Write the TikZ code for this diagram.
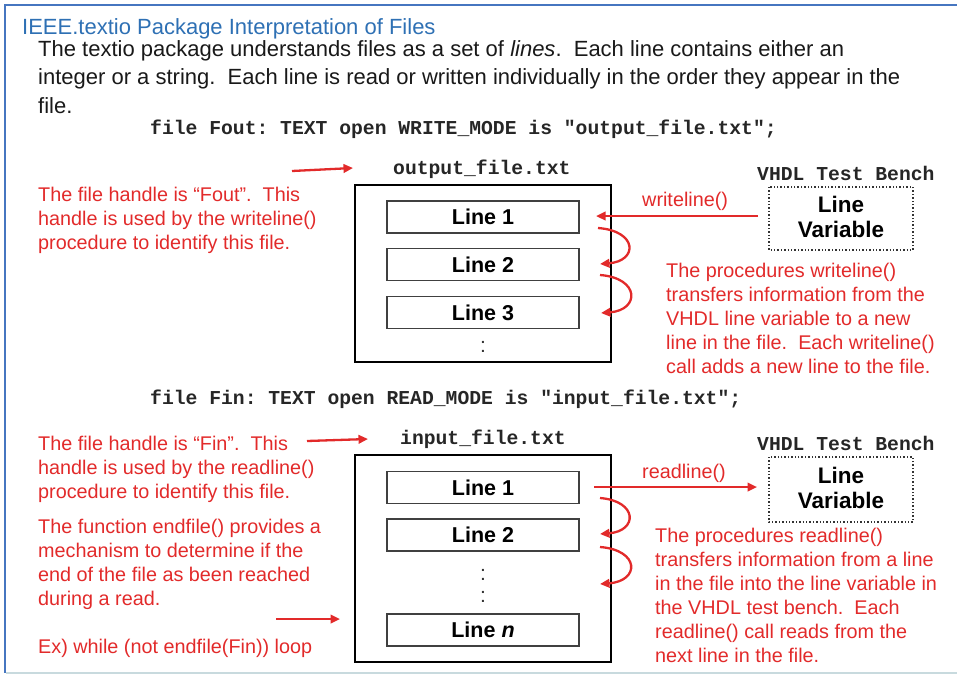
\documentclass[tikz,border=0pt]{standalone}
\usepackage{fontspec}
\setmainfont{Liberation Sans}
\setmonofont{Liberation Mono}
\usetikzlibrary{arrows.meta}
\definecolor{redc}{RGB}{226,42,42}
\definecolor{titleblue}{RGB}{46,112,180}
\definecolor{frameblue}{RGB}{70,118,192}
\definecolor{framelight}{RGB}{200,218,222}
\begin{document}
\begin{tikzpicture}[x=1pt,y=-1pt,
  redtxt/.style={text=redc, font=\fontsize{19.8}{24}\selectfont, align=left, anchor=north west, inner sep=0pt},
  monotxt/.style={font=\ttfamily\bfseries\fontsize{19.7}{24}\selectfont, anchor=base west, inner sep=0pt, text=black!85},
  linebox/.style={draw=black!75, line width=1.3pt, minimum width=192pt, minimum height=32pt, inner sep=0pt, font=\bfseries\fontsize{21.5}{24}\selectfont},
  outerbox/.style={draw=black, line width=2pt},
  varbox/.style={draw=black!80, dotted, line width=1.4pt},
  vartxt/.style={font=\bfseries\fontsize{22.5}{25.5}\selectfont, align=center, inner sep=0pt},
  dots/.style={font=\fontsize{21}{24}\selectfont, text=black!80, inner sep=0pt, anchor=base},
  redarr/.style={draw=redc, line width=2.3pt, -{Triangle[length=9.5pt,width=8.5pt]}},
  lbl/.style={text=redc, font=\fontsize{19.8}{24}\selectfont, anchor=base west, inner sep=0pt}
]
\useasboundingbox (0,0) rectangle (957,675);
% frame
\draw[frameblue, line width=2.5pt] (957,5) -- (5,5) -- (5,673);
\draw[framelight, line width=1.5pt] (6,673) -- (957,673);

% title and body
\node[text=titleblue, font=\fontsize{22}{26}\selectfont, anchor=base west, inner sep=0pt] (title) at (22,34) {IEEE.textio Package Interpretation of Files};
\node[text=black!90, font=\fontsize{22}{28.5}\selectfont, align=left, anchor=north west, inner sep=0pt] (body) at (38,40)
 {The textio package understands files as a set of \textit{lines}.\ \ Each line contains either an\\
  integer or a string.\ \ Each line is read or written individually in the order they appear in the\\
  file.};
\node[monotxt] (fout) at (150,134) {file Fout: TEXT open WRITE\_MODE is "output\_file.txt";};
\node[monotxt] (fin) at (150,404) {file Fin: TEXT open READ\_MODE is "input\_file.txt";};

% ---------- top (write) section ----------
\node[monotxt] (ofname) at (393,174) {output\_file.txt};
\draw[outerbox] (355,185) rectangle (611,362);
\node[linebox] (w1) at (483,217) {Line 1};
\node[linebox] (w2) at (483,264.5) {Line 2};
\node[linebox] (w3) at (483,312.5) {Line 3};
\node[dots] (wd) at (483,352) {:};

\node[monotxt] (tb1lbl) at (757,180) {VHDL Test Bench};
\draw[varbox] (769,187) rectangle (913,250);
\node[vartxt] (lv1) at (841,217) {Line\\Variable};

\coordinate (wls) at (758,216);
\coordinate (wle) at (596,216);
\draw[redarr] (wls) -- (wle);
\node[lbl] (wlbl) at (642,206) {writeline()};

\coordinate (wc1s) at (598,228);
\coordinate (wc1e) at (600,264);
\coordinate (wc2s) at (600,275);
\coordinate (wc2e) at (601,313);
\draw[redarr] (wc1s) .. controls (638,231) and (638,261) .. (wc1e);
\draw[redarr] (wc2s) .. controls (640,278) and (640,310) .. (wc2e);

\node[redtxt] (foutnote) at (38,186.5) {The file handle is “Fout”.\ \ This\\handle is used by the writeline()\\procedure to identify this file.};
\coordinate (fa1s) at (292,171);
\coordinate (fa1e) at (353,168);
\draw[redarr] (fa1s) -- (fa1e);

\node[redtxt] (wnote) at (666,262.5) {The procedures writeline()\\transfers information from the\\VHDL line variable to a new\\line in the file.\ \ Each writeline()\\call adds a new line to the file.};

% ---------- bottom (read) section ----------
\node[monotxt] (ifname) at (400,444) {input\_file.txt};
\draw[outerbox] (355,455) rectangle (611,662);
\node[linebox] (r1) at (483,487.5) {Line 1};
\node[linebox] (r2) at (483,535) {Line 2};
\node[dots] (rd1) at (483,580) {:};
\node[dots] (rd2) at (483,602) {:};
\node[linebox] (rn) at (483,630) {Line \textit{n}};

\node[monotxt] (tb2lbl) at (757,450) {VHDL Test Bench};
\draw[varbox] (769,457) rectangle (913,522);
\node[vartxt] (lv2) at (841,488) {Line\\Variable};

\coordinate (rls) at (594,487);
\coordinate (rle) at (757,487);
\draw[redarr] (rls) -- (rle);
\node[lbl] (rlbl) at (642,478) {readline()};

\coordinate (rc1s) at (600,498);
\coordinate (rc1e) at (600,534);
\coordinate (rc2s) at (600,547);
\coordinate (rc2e) at (600,584);
\draw[redarr] (rc1s) .. controls (638,501) and (638,531) .. (rc1e);
\draw[redarr] (rc2s) .. controls (640,550) and (640,581) .. (rc2e);

\node[redtxt] (finnote) at (38,435.5) {The file handle is “Fin”.\ \ This\\handle is used by the readline()\\procedure to identify this file.};
\coordinate (fa2s) at (307,441);
\coordinate (fa2e) at (368,439);
\draw[redarr] (fa2s) -- (fa2e);

\node[redtxt] (eofnote) at (38,518.5) {The function endfile() provides a\\mechanism to determine if the\\end of the file as been reached\\during a read.};
\coordinate (fa3s) at (276,619);
\coordinate (fa3e) at (340,619);
\draw[redarr] (fa3s) -- (fa3e);
\node[lbl] (exnote) at (38,653) {Ex) while (not endfile(Fin)) loop};

\node[redtxt] (rnote) at (655,527.5) {The procedures readline()\\transfers information from a line\\in the file into the line variable in\\the VHDL test bench.\ \ Each\\readline() call reads from the\\next line in the file.};
\end{tikzpicture}
\end{document}
